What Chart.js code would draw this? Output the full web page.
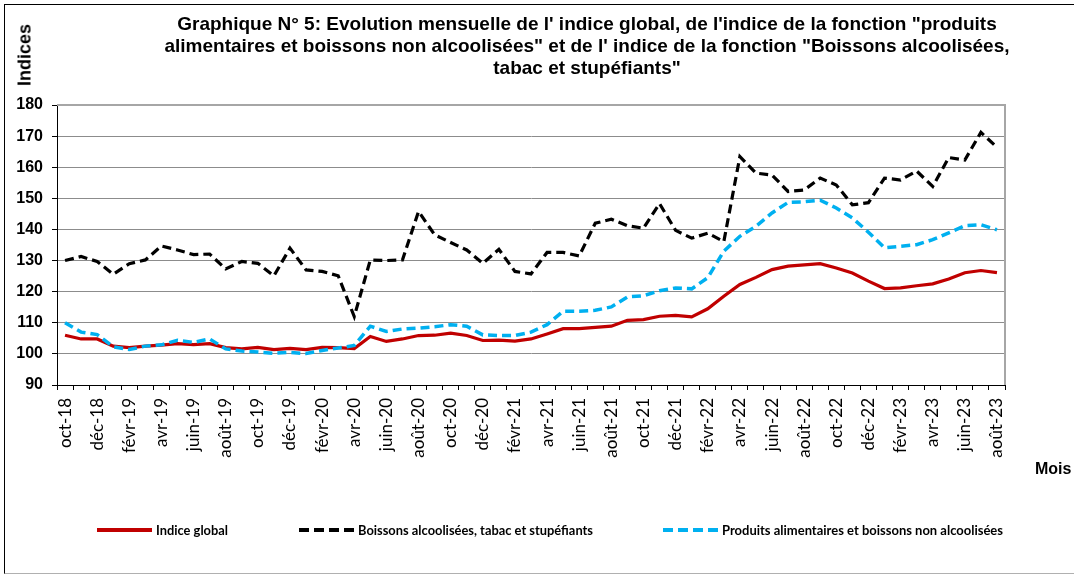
<!DOCTYPE html>
<html>
<head>
<meta charset="utf-8">
<script src="https://cdn.jsdelivr.net/npm/chart.js@4/dist/chart.umd.min.js"></script>
<style>
  html, body { margin:0; padding:0; background:#fff; }
  #wrap { position:relative; width:1074px; height:575px; overflow:hidden; }
  #frame { position:absolute; left:4px; top:4px; width:1090px; height:568px; border-left:1px solid #000; border-top:1px solid #000; border-bottom:1px solid #b0b0b0; }
  canvas { position:absolute; left:0; top:0; }
  #title { position:absolute; left:137px; width:900px; top:13px; text-align:center; font:bold 19px "Liberation Sans", Arial, sans-serif; line-height:22px; color:#000; }
  #ytitle { position:absolute; left:25px; top:55px; transform:translate(-50%,-50%) rotate(-90deg); font:bold 18px "Liberation Sans", Arial, sans-serif; color:#000; white-space:nowrap; }
  #xtitle { position:absolute; left:1035px; top:460px; font:bold 16px "Liberation Sans", Arial, sans-serif; color:#000; }
  .leg { position:absolute; top:521px; height:18px; }
  .leg svg { position:absolute; left:0; top:5px; }
  .leg span { position:absolute; top:1px; font:bold 13px Lato, sans-serif; color:#000; white-space:nowrap; transform-origin:0 50%; }
</style>
</head>
<body>
<div id="wrap">
  <div id="frame"></div>
  <canvas id="c" width="1074" height="575"></canvas>
  <div id="title">Graphique N° 5: Evolution mensuelle de l' indice global, de l'indice de la fonction "produits<br>alimentaires et boissons non alcoolisées" et de l' indice de la fonction "Boissons alcoolisées,<br>tabac et stupéfiants"</div>
  <div id="ytitle">Indices</div>
  <div id="xtitle">Mois</div>
  <div class="leg" style="left:97px"><svg width="56" height="8"><line x1="0" y1="4" x2="55" y2="4" stroke="#C00000" stroke-width="4"/></svg><span data-w="72" style="left:59px">Indice global</span></div>
  <div class="leg" style="left:299px"><svg width="56" height="8"><line x1="0" y1="4" x2="55" y2="4" stroke="#000" stroke-width="4" stroke-dasharray="10,5"/></svg><span data-w="235" style="left:59px">Boissons alcoolisées, tabac et stupéfiants</span></div>
  <div class="leg" style="left:663px"><svg width="56" height="8"><line x1="0" y1="4" x2="55" y2="4" stroke="#00B0F0" stroke-width="4" stroke-dasharray="10,5"/></svg><span data-w="281" style="left:59px">Produits alimentaires et boissons non alcoolisées</span></div>
</div>
<script>
const months = [
  'oct-18','nov-18','déc-18','janv-19','févr-19','mars-19','avr-19','mai-19','juin-19','juil-19','août-19','sept-19',
  'oct-19','nov-19','déc-19','janv-20','févr-20','mars-20','avr-20','mai-20','juin-20','juil-20','août-20','sept-20',
  'oct-20','nov-20','déc-20','janv-21','févr-21','mars-21','avr-21','mai-21','juin-21','juil-21','août-21','sept-21',
  'oct-21','nov-21','déc-21','janv-22','févr-22','mars-22','avr-22','mai-22','juin-22','juil-22','août-22','sept-22',
  'oct-22','nov-22','déc-22','janv-23','févr-23','mars-23','avr-23','mai-23','juin-23','juil-23','août-23'
];
const indiceGlobal = [
  106,104.8,104.8,102.5,102,102.5,102.8,103.3,103,103.3,
  102,101.6,102.1,101.4,101.8,101.4,102.1,102,101.7,105.6,
  104,104.8,105.9,106,106.7,105.9,104.3,104.4,104.1,104.8,
  106.4,108.1,108.1,108.5,108.9,110.8,111,112.1,112.4,111.9,
  114.5,118.5,122.3,124.6,127.1,128.2,128.6,129,127.6,126,
  123.4,121,121.2,121.9,122.5,124.1,126.1,126.8,126.1
];
const boissonsAlcoolisees = [
  130,131.3,129.7,125.6,129,130.2,134.7,133.4,131.9,132.1,
  127.3,129.7,129.1,125.1,134,127,126.5,125.1,112,130.2,
  130,130.2,145.8,138.3,135.8,133.4,129.1,133.6,126.5,125.7,
  132.6,132.6,131.5,142,143.3,141.2,140.4,148.3,139.7,137.2,
  138.8,136.1,163.4,158.1,157.5,152.2,152.7,156.5,154.3,147.9,
  148.6,156.5,155.9,158.8,153.8,163.1,162.3,171.2,166.4
];
const produitsAlimentaires = [
  110,107,106.2,102.3,101.4,102.5,102.9,104.4,103.7,104.8,
  101.6,100.9,100.6,100.2,100.5,100.1,101.1,101.9,102.7,108.9,
  107.2,108,108.3,108.7,109.4,108.9,106.1,105.9,105.9,107,
  109.4,113.7,113.7,114,115.1,118.3,118.7,120.3,121.2,120.9,
  124.5,133,137.8,141,145.3,148.7,148.9,149.4,146.9,143.7,
  139.1,134.1,134.6,135.1,136.7,138.9,141.2,141.5,139.9
];
const yTicks = [90,100,110,120,130,140,150,160,170,180];

// fit legend text widths
document.querySelectorAll('.leg span').forEach(s => {
  const w = s.getBoundingClientRect().width;
  const t = +s.dataset.w;
  if (w > 0) s.style.transform = 'scaleX(' + (t / w) + ')';
});

const plotFrame = {
  id: 'plotFrame',
  beforeDatasetsDraw(chart) {
    const a = chart.chartArea, ctx = chart.ctx;
    ctx.save();
    ctx.strokeStyle = '#a6a6a6';
    ctx.lineWidth = 2;
    ctx.beginPath();
    ctx.moveTo(a.left, a.top);
    ctx.lineTo(a.right, a.top);
    ctx.lineTo(a.right, a.bottom);
    ctx.stroke();
    ctx.restore();
  }
};

new Chart(document.getElementById('c'), {
  type: 'line',
  data: {
    labels: months,
    datasets: [
      { label: 'Indice global', data: indiceGlobal, borderColor: '#C00000', borderWidth: 3.2, pointRadius: 0, tension: 0, order: 2 },
      { label: 'Boissons alcoolisées, tabac et stupéfiants', data: boissonsAlcoolisees, borderColor: '#000000', borderWidth: 3.2, borderDash: [9,5], pointRadius: 0, tension: 0, order: 1 },
      { label: 'Produits alimentaires et boissons non alcoolisées', data: produitsAlimentaires, borderColor: '#00B0F0', borderWidth: 3.5, borderDash: [9,5], pointRadius: 0, tension: 0, order: 0 }
    ]
  },
  options: {
    responsive: false,
    animation: false,
    devicePixelRatio: 1,
    layout: { padding: { top: 105, left: 0, right: 69, bottom: 110 } },
    plugins: { legend: { display: false }, title: { display: false }, tooltip: { enabled: false } },
    scales: {
      x: {
        type: 'category',
        offset: true,
        afterFit(s) { s.height = 80; },
        grid: { drawOnChartArea: false, offset: true, tickLength: 5, tickColor: '#000', tickWidth: 1 },
        border: { display: true, color: '#000', width: 1 },
        ticks: {
          autoSkip: false, maxRotation: 90, minRotation: 90, padding: 8, color: '#000',
          font: { family: 'Lato', size: 17 },
          callback(v, i) { return i % 2 === 0 ? months[i] : ''; }
        }
      },
      y: {
        min: 90, max: 180,
        afterFit(s) { s.width = 57; },
        afterBuildTicks(s) { s.ticks = yTicks.map(v => ({ value: v })); },
        grid: {
          color: ctx => (ctx.tick && (ctx.tick.value === 90 || ctx.tick.value === 180)) ? 'rgba(0,0,0,0)' : '#8c8c8c',
          lineWidth: 1, borderDash: [2,2], tickLength: 5, tickColor: '#000', tickBorderDash: [], tickWidth: 1
        },
        border: { display: true, color: '#000', width: 1 },
        ticks: { padding: 9, color: '#000', font: { family: 'Liberation Sans', size: 16, weight: 'bold' } }
      }
    }
  },
  plugins: [plotFrame]
});
</script>
</body>
</html>
